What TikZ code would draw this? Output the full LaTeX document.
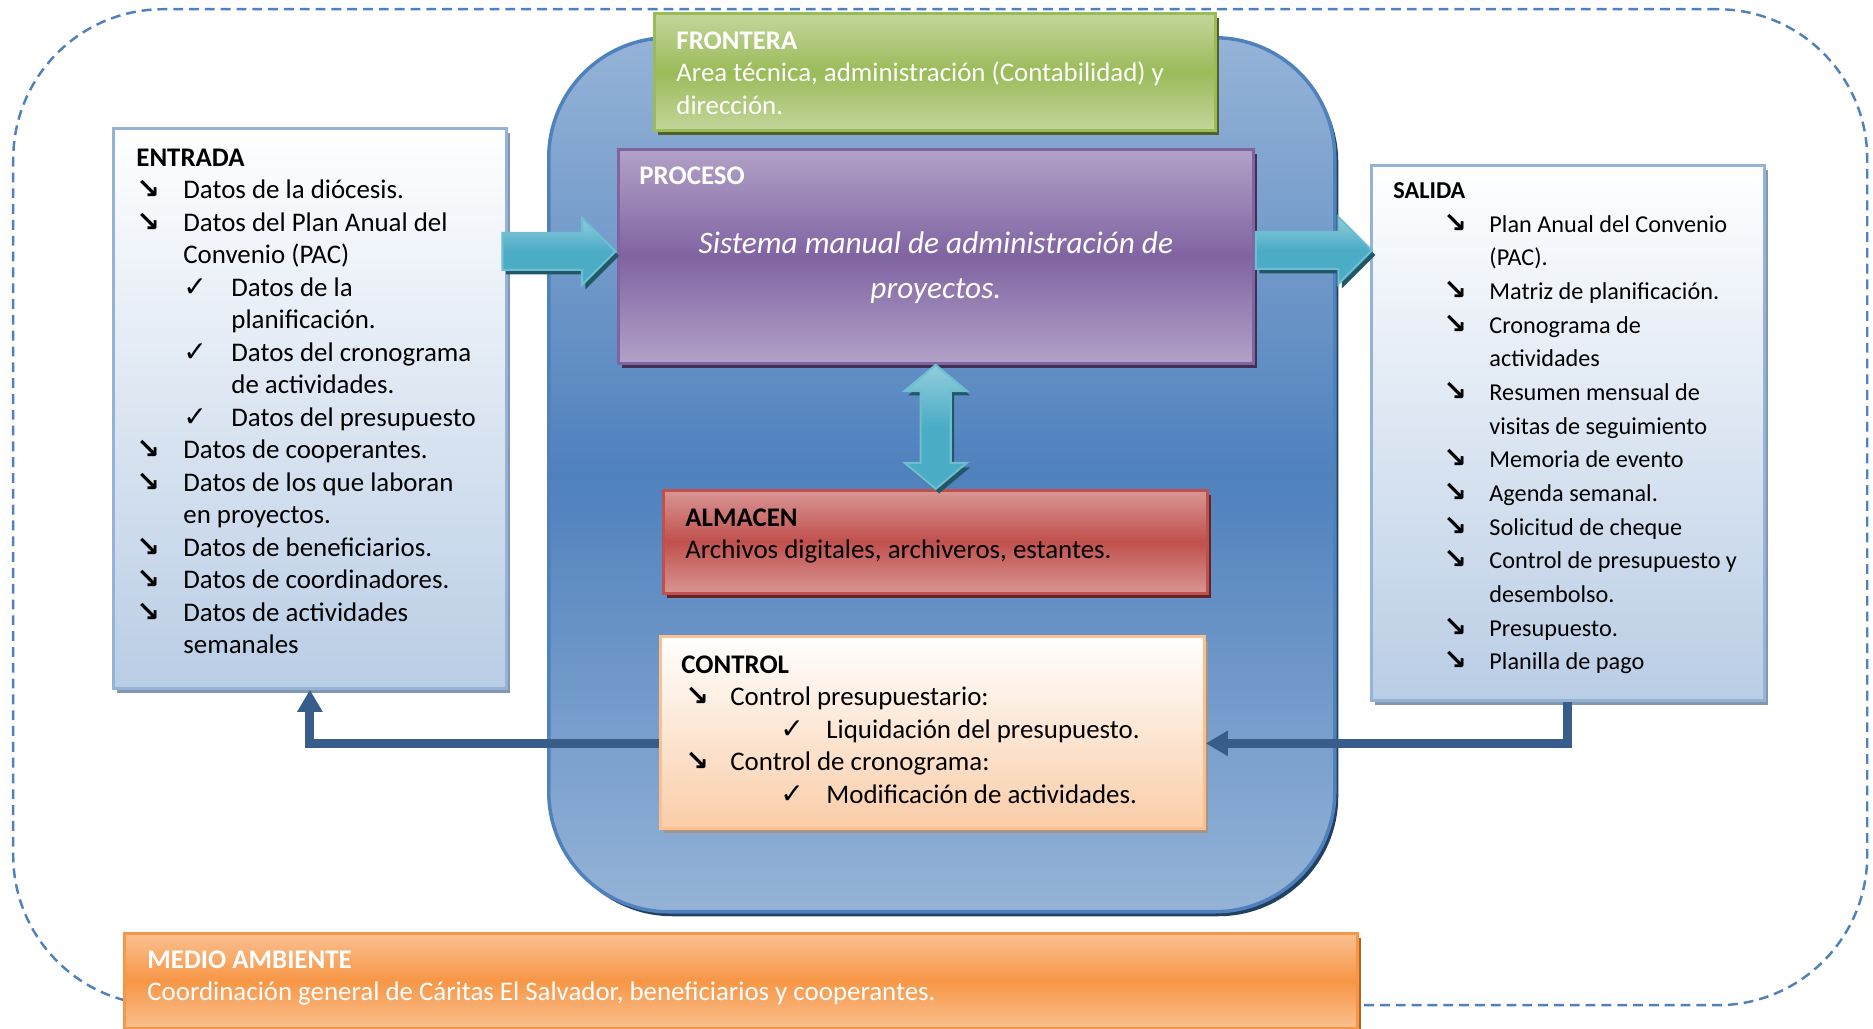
\documentclass[tikz,border=0pt]{standalone}
\usepackage{fontspec}
\setmainfont{Carlito}
\newfontfamily\symfont{DejaVu Sans}
\usepackage{tikz}
\usetikzlibrary{
  arrows.meta, positioning, calc, shapes.arrows, shadows
}
\definecolor{borderblue}{RGB}{79, 129, 189}
\definecolor{lightblue}{RGB}{149, 179, 215}
\definecolor{paleblue}{RGB}{185, 205, 229}
\definecolor{panelshadow}{RGB}{132, 151, 176}
\definecolor{darkblue}{RGB}{56, 93, 138}
\definecolor{navyshadow}{RGB}{36, 64, 97}
\definecolor{frontgreen}{RGB}{155, 187, 89}
\definecolor{frontlight}{RGB}{195, 214, 155}
\definecolor{frontshadow}{RGB}{79, 98, 40}
\definecolor{procpurple}{RGB}{128, 100, 162}
\definecolor{proclight}{RGB}{178, 161, 199}
\definecolor{procshadow}{RGB}{63, 49, 81}
\definecolor{almred}{RGB}{192, 80, 77}
\definecolor{almlight}{RGB}{217, 150, 148}
\definecolor{almshadow}{RGB}{99, 37, 35}
\definecolor{ctrlpeach}{RGB}{250, 205, 168}
\definecolor{ctrlborder}{RGB}{250, 192, 144}
\definecolor{ctrlshadow}{RGB}{166, 148, 132}
\definecolor{medorange}{RGB}{247, 150, 70}
\definecolor{medlight}{RGB}{250, 192, 144}
\definecolor{medshadow}{RGB}{182, 98, 30}
\definecolor{flowteal}{RGB}{75, 172, 198}
\definecolor{flowlight}{RGB}{146, 205, 220}
\definecolor{flowshadow}{RGB}{32, 88, 103}

% list marks
\newcommand{\arrmark}{{\symfont\bfseries\fontsize{8}{8}\selectfont ↘}}
\newcommand{\chkmark}{{\symfont\fontsize{8}{8}\selectfont ✓}}
\newcommand{\flecha}[2]{\hspace*{#1}\makebox[#2][l]{\arrmark}}
\newcommand{\visto}[2]{\hspace*{#1}\makebox[#2][l]{\chkmark}}

\begin{document}
\begin{tikzpicture}[
    panel/.style={draw, line width=0.8pt, inner sep=0pt, anchor=north west,
                  font=\fontsize{7.65}{9.25}\selectfont},
    shadowed/.style={drop shadow={shadow xshift=0.035cm, shadow yshift=-0.045cm,
                     fill=#1, opacity=1}},
    flow/.style={single arrow, draw=flowteal!80, line width=0.6pt,
                 inner xsep=0pt, inner ysep=0.175cm,
                 top color=flowlight, bottom color=flowteal, middle color=flowteal,
                 minimum width=0.65cm, single arrow head extend=0.15cm,
                 shadowed=flowshadow},
    feedback/.style={draw=darkblue, line width=0.09cm,
                     -{Triangle[width=0.24cm, length=0.22cm]}},
  ]
    \useasboundingbox (0,0) rectangle (18.73,-10.29);

    % environment (dashed)
    \node[draw=borderblue, dash pattern=on 2.8pt off 1.7pt, line width=0.7pt,
          rounded corners=1.5cm, inner sep=0pt, anchor=north west,
          minimum width=18.54cm, minimum height=9.96cm]
      (entorno) at (0.12,-0.08) {};

    % system
    \node[draw=borderblue, line width=1pt, rounded corners=1.2cm, inner sep=0pt,
          anchor=north west, minimum width=7.86cm, minimum height=8.74cm,
          top color=lightblue, bottom color=lightblue, middle color=borderblue,
          shadowed=navyshadow]
      (sistema) at (5.47,-0.36) {};

    % FRONTERA
    \node[panel, draw=frontgreen, text=white, inner xsep=0.22cm, inner ysep=0.132cm,
          top color=frontlight, bottom color=frontlight, middle color=frontgreen,
          shadowed=frontshadow]
      (frontera) at (6.53,-0.12) {\parbox[t][0.906cm][t]{5.17cm}{\strut
        \textbf{FRONTERA}\\
        Area técnica, administración (Contabilidad) y\\
        dirección.}};

    % PROCESO
    \node[panel, draw=procpurple, text=white, inner xsep=0.21cm, inner ysep=0.122cm,
          top color=proclight, bottom color=proclight, middle color=procpurple,
          shadowed=procshadow]
      (proceso) at (6.17,-1.48) {\parbox[t][1.896cm][t]{5.93cm}{\strut
        \textbf{PROCESO}\par\vspace{0.238cm}
        {\centering\fontsize{8.9}{12.8}\selectfont\itshape
         Sistema manual de administración de\\ proyectos.\par}}};

    % ALMACEN
    \node[panel, draw=almred, inner xsep=0.22cm, inner ysep=0.132cm,
          top color=almlight, bottom color=almlight, middle color=almred,
          shadowed=almshadow]
      (almacen) at (6.62,-4.89) {\parbox[t][0.766cm][t]{5.00cm}{\strut
        \textbf{ALMACEN}\\
        Archivos digitales, archiveros, estantes.}};

    % CONTROL
    \node[panel, draw=ctrlborder, inner xsep=0.21cm, inner ysep=0.142cm,
          top color=white, bottom color=ctrlpeach, shadowed=ctrlshadow]
      (control) at (6.59,-6.35) {\parbox[t][1.636cm][t]{5.02cm}{\strut
        \textbf{CONTROL}\\
        \flecha{0.04cm}{0.45cm}Control presupuestario:\\
        \visto{0.99cm}{0.46cm}Liquidación del presupuesto.\\
        \flecha{0.04cm}{0.45cm}Control de cronograma:\\
        \visto{0.99cm}{0.46cm}Modificación de actividades.}};

    % ENTRADA
    \node[panel, draw=lightblue, inner xsep=0.23cm, inner ysep=0.152cm,
          top color=white, bottom color=paleblue, shadowed=panelshadow]
      (entrada) at (1.12,-1.27) {\parbox[t][5.296cm][t]{3.47cm}{\strut
        \textbf{ENTRADA}\\
        \flecha{0cm}{0.47cm}Datos de la diócesis.\\
        \flecha{0cm}{0.47cm}Datos del Plan Anual del\\
        \hspace*{0.47cm}Convenio (PAC)\\
        \visto{0.47cm}{0.48cm}Datos de la\\
        \hspace*{0.95cm}planificación.\\
        \visto{0.47cm}{0.48cm}Datos del cronograma\\
        \hspace*{0.95cm}de actividades.\\
        \visto{0.47cm}{0.48cm}Datos del presupuesto\\
        \flecha{0cm}{0.47cm}Datos de cooperantes.\\
        \flecha{0cm}{0.47cm}Datos de los que laboran\\
        \hspace*{0.47cm}en proyectos.\\
        \flecha{0cm}{0.47cm}Datos de beneficiarios.\\
        \flecha{0cm}{0.47cm}Datos de coordinadores.\\
        \flecha{0cm}{0.47cm}Datos de actividades\\
        \hspace*{0.47cm}semanales}};

    % SALIDA
    \node[panel, draw=lightblue, inner xsep=0.22cm, inner ysep=0.094cm,
          font=\fontsize{6.9}{9.58}\selectfont,
          top color=white, bottom color=paleblue, shadowed=panelshadow]
      (salida) at (13.70,-1.64) {\parbox[t][5.162cm][t]{3.49cm}{\strut
        \textbf{SALIDA}\\
        \flecha{0.50cm}{0.46cm}Plan Anual del Convenio\\
        \hspace*{0.96cm}(PAC).\\
        \flecha{0.50cm}{0.46cm}Matriz de planificación.\\
        \flecha{0.50cm}{0.46cm}Cronograma de\\
        \hspace*{0.96cm}actividades\\
        \flecha{0.50cm}{0.46cm}Resumen mensual de\\
        \hspace*{0.96cm}visitas de seguimiento\\
        \flecha{0.50cm}{0.46cm}Memoria de evento\\
        \flecha{0.50cm}{0.46cm}Agenda semanal.\\
        \flecha{0.50cm}{0.46cm}Solicitud de cheque\\
        \flecha{0.50cm}{0.46cm}Control de presupuesto y\\
        \hspace*{0.96cm}desembolso.\\
        \flecha{0.50cm}{0.46cm}Presupuesto.\\
        \flecha{0.50cm}{0.46cm}Planilla de pago}};

    % flows in and out of the process
    \node[flow, anchor=tip, minimum height=1.13cm]
      (inarrow) at ([yshift=0.05cm]proceso.west) {};
    \node[flow, anchor=tail, minimum height=1.16cm]
      (outarrow) at ([yshift=0.06cm]proceso.east) {};
    \node[double arrow, rotate=90, draw=flowteal!80, line width=0.6pt,
          inner xsep=0pt, inner ysep=0.14cm,
          top color=flowlight, bottom color=flowteal, middle color=flowteal,
          minimum width=0.60cm, minimum height=1.24cm,
          double arrow head extend=0.16cm, double arrow tip angle=100,
          shadowed=flowshadow]
      (storearrow) at ($(proceso.south)!0.5!(almacen.north)$) {};

    % feedback
    \draw[feedback] ([yshift=-0.11cm]control.west) -| (entrada.south);
    \draw[feedback] (salida.south) |- ([yshift=-0.11cm]control.east);

    % MEDIO AMBIENTE
    \node[panel, draw=medorange, text=white, inner xsep=0.23cm, inner ysep=0.122cm,
          top color=medlight, bottom color=medlight, middle color=medorange,
          shadowed=medshadow]
      (medio) at (1.23,-9.32) {\parbox[t][0.706cm][t]{11.87cm}{\strut
        \textbf{MEDIO AMBIENTE}\\
        Coordinación general de Cáritas El Salvador, beneficiarios y cooperantes.}};
\end{tikzpicture}
\end{document}
